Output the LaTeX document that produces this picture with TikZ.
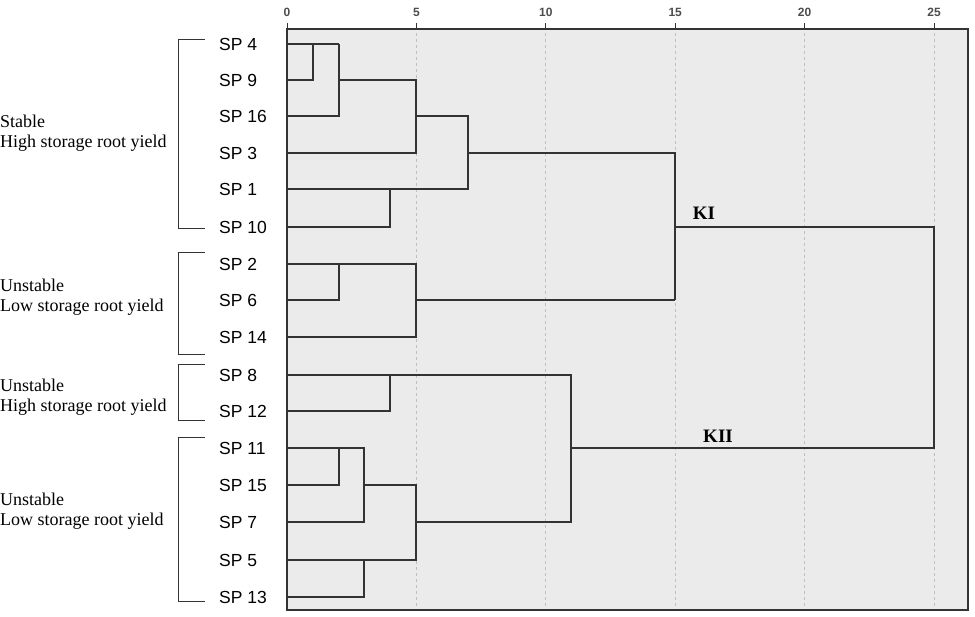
\documentclass[tikz,border=0pt]{standalone}
\usepackage{fontspec}
\setmainfont{Liberation Serif}
\newfontfamily\arial{Liberation Sans}
\begin{document}
\begin{tikzpicture}[x=1pt,y=-1pt,
  link/.style={draw=black!80,line width=1.6pt},
  grid/.style={draw=black!25,dashed,line width=0.8pt},
  sp/.style={anchor=west,font=\arial\fontsize{17.5}{20}\selectfont,inner sep=0pt},
  grp/.style={anchor=west,align=left,font=\fontsize{18}{20}\selectfont,inner sep=0pt},
  brk/.style={draw=black!80,line width=0.9pt},
  tick/.style={font=\arial\fontsize{12}{14}\selectfont\bfseries,text=black!70,inner sep=0pt},
  klab/.style={font=\bfseries\fontsize{19}{22}\selectfont,inner sep=0pt}]
\useasboundingbox (0,0) rectangle (975,617);
\fill[black!8] (287,29) rectangle (968,610);
\foreach \u/\l in {0/0,5/5,10/10,15/15,20/20,25/25}{
  \pgfmathsetmacro\xx{287+25.88*\u}
  \ifnum\u>0 \draw[grid] (\xx,33) -- (\xx,608);\fi
  \draw[line width=1pt,black!80] (\xx,29) -- (\xx,23);
  \node[tick] (t\u) at (\xx,12) {\l};
}
\draw[line width=1.6pt,black!80] (287,610) -- (287,29) -- (968,29) -- (968,610) -- cycle;
% labels
\foreach \n/\y in {4/44,9/80,16/116,3/153,1/189,10/227,2/264,6/300,14/337,8/375,12/411,11/448,15/485,7/522,5/560,13/597}{
  \node[sp] (sp\n) at (219,\y) {SP \n};
}
% cluster links
\draw[link] (287,44) -- (339,44);
\draw[link] (287,80) -- (313,80) -- (313,44);
\draw[link] (339,44) -- (339,116) -- (287,116);
\draw[link] (339,80) -- (416,80) -- (416,153) -- (287,153);
\draw[link] (416,116) -- (468,116) -- (468,189) -- (287,189);
\draw[link] (287,227) -- (390,227) -- (390,189);
\draw[link] (468,153) -- (675,153) -- (675,300);
\draw[link] (287,264) -- (416,264) -- (416,337) -- (287,337);
\draw[link] (287,300) -- (339,300) -- (339,264);
\draw[link] (416,300) -- (675,300);
\draw[link] (675,227) -- (934,227) -- (934,448) -- (571,448);
\draw[link] (287,375) -- (571,375) -- (571,522) -- (416,522);
\draw[link] (287,411) -- (390,411) -- (390,375);
\draw[link] (287,448) -- (364,448) -- (364,522) -- (287,522);
\draw[link] (287,485) -- (339,485) -- (339,448);
\draw[link] (364,485) -- (416,485) -- (416,560) -- (287,560);
\draw[link] (287,597) -- (364,597) -- (364,560);
\node[klab] (k1) at (704,213) {KI};
\node[klab] (k2) at (718,436) {KII};
% brackets
\draw[brk] (205,39) -- (178,39) -- (178,228) -- (205,228);
\draw[brk] (205,252) -- (178,252) -- (178,354) -- (205,354);
\draw[brk] (205,364) -- (178,364) -- (178,420) -- (205,420);
\draw[brk] (205,437) -- (178,437) -- (178,601) -- (205,601);
\node[grp] (g1) at (0,133) {Stable\\High storage root yield};
\node[grp] (g2) at (0,297) {Unstable\\Low storage root yield};
\node[grp] (g3) at (0,397) {Unstable\\High storage root yield};
\node[grp] (g4) at (0,511) {Unstable\\Low storage root yield};
\end{tikzpicture}
\end{document}
